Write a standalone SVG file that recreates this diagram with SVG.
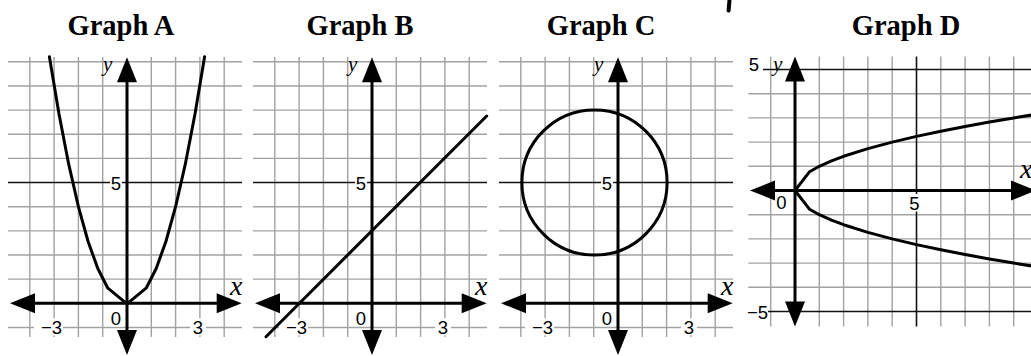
<svg xmlns="http://www.w3.org/2000/svg" width="1031" height="356" viewBox="0 0 1031 356">
<style>
.grid{stroke:#a2a2a2;stroke-width:1.4;fill:none}
.dark{stroke:#111;stroke-width:1.6;fill:none}
.axis{stroke:#000;stroke-width:3;fill:none}
.curve{stroke:#000;stroke-width:3;fill:none;stroke-linejoin:round;stroke-linecap:round}
.bg{fill:#fff}
.title{font-family:"Liberation Serif","Times New Roman",serif;font-weight:bold;font-size:28.5px;text-anchor:middle;fill:#000}
.num{font-family:"Liberation Sans",Arial,sans-serif;font-size:18.5px;fill:#000}
.mid{text-anchor:middle}
.end{text-anchor:end}
.yv{font-family:"Liberation Serif","Times New Roman",serif;font-style:italic;font-size:21px;fill:#000}
.xv{font-family:"Liberation Serif","Times New Roman",serif;font-style:italic;font-size:28px;fill:#000}
</style>
<defs>
<polygon id="ah" points="0,0 -25,-10 -25,10" fill="#000"/>
<g id="gridABC">
<path class="grid" d="M-97.2,-246.3V33.7M-72.9,-246.3V33.7M-48.6,-246.3V33.7M-24.3,-246.3V33.7M24.3,-246.3V33.7M48.6,-246.3V33.7M72.9,-246.3V33.7M97.2,-246.3V33.7M-119,24.15H115M-119,-24.15H115M-119,-48.3H115M-119,-72.45H115M-119,-96.6H115M-119,-144.9H115M-119,-169.05H115M-119,-193.2H115M-119,-217.35H115M-119,-241.5H115"/>
<path class="dark" d="M-119,-120.75H115"/>
<rect class="bg" x="-17" y="-128" width="12" height="16"/>
<rect class="bg" x="-18" y="7" width="14" height="16"/>
<rect class="bg" x="-93" y="15" width="29" height="17"/>
<rect class="bg" x="63" y="15" width="16" height="17"/>
<text class="num mid" x="-11" y="-113.3">5</text>
<text class="num mid" x="-11" y="21.7">0</text>
<text class="num end" x="-65" y="30.7">−3</text>
<text class="num mid" x="71" y="30.7">3</text>
<text class="yv" x="-24" y="-232.7">y</text>
<text class="xv" x="103" y="-8.3">x</text>
<path class="axis" d="M-105,0H103M0,-235V40"/>
<use href="#ah" transform="translate(-117,0) rotate(180)"/>
<use href="#ah" transform="translate(114.7,0)"/>
<use href="#ah" transform="translate(0,-246) rotate(-90)"/>
<use href="#ah" transform="translate(0,51.7) rotate(90)"/>
</g>
</defs>

<g id="graphA" transform="translate(127,303.3)">
<text class="title" x="-6" y="-268.3">Graph A</text>
<use href="#gridABC"/>
<path class="curve" d="M-77.6,-246.6L-68,-189.3L-58.3,-139.1L-48.6,-96.6L-38.9,-61.8L-29.2,-34.8L-19.4,-15.5L0,0.5L19.4,-15.5L29.2,-34.8L38.9,-61.8L48.6,-96.6L58.3,-139.1L68,-189.3L77.6,-246.6"/>
</g>

<g id="graphB" transform="translate(372,303.3)">
<text class="title" x="-12" y="-268.3">Graph B</text>
<use href="#gridABC"/>
<path class="curve" d="M-106,33.4L114.7,-187.3"/>
</g>

<g id="graphC" transform="translate(618,303.3)">
<text class="title" x="-17" y="-268.3">Graph C</text>
<use href="#gridABC"/>
<circle class="curve" cx="-23.5" cy="-120.8" r="72.6" stroke-width="2.5"/>
</g>

<g id="graphD" transform="translate(795,190.5)">
<text class="title" x="111" y="-155.5">Graph D</text>
<path class="grid" d="M-24.3,-134V136M24.3,-134V136M48.6,-134V136M72.9,-134V136M97.2,-134V136M145.8,-134V136M170.1,-134V136M194.4,-134V136M218.7,-134V136M-46.7,-24.2H236M-46.7,-48.4H236M-46.7,-72.6H236M-46.7,-96.8H236M-46.7,24.2H236M-46.7,48.4H236M-46.7,72.6H236M-46.7,96.8H236"/>
<path class="dark" d="M121.5,-134V136M-32,-121H236M-27,121H236"/>
<rect class="bg" x="112.5" y="3.5" width="14" height="17.5"/>
<text class="num mid" x="-41" y="-120">5</text>
<text class="yv" x="-22" y="-119.5">y</text>
<text class="num mid" x="-13.6" y="18.5">0</text>
<text class="num mid" x="119.5" y="19">5</text>
<text class="num end" x="-27" y="128.5">−5</text>
<text class="xv" x="225" y="-12.5">x</text>
<path class="axis" d="M-35,0H230M0,-120V122"/>
<use href="#ah" transform="translate(-45,0) rotate(180)"/>
<use href="#ah" transform="translate(1036,0) translate(-795,0)"/>
<use href="#ah" transform="translate(0,-134) rotate(-90)"/>
<use href="#ah" transform="translate(0,136) rotate(90)"/>
<path class="curve" d="M0,0L14.6,-18.8L24.3,-24.2L36.5,-29.6L48.6,-34.2L72.9,-41.9L97.2,-48.4L121.5,-54.1L145.8,-59.3L170.1,-64L194.4,-68.4L218.7,-72.6L243,-76.5"/>
<path class="curve" d="M0,0L14.6,18.8L24.3,24.2L36.5,29.6L48.6,34.2L72.9,41.9L97.2,48.4L121.5,54.1L145.8,59.3L170.1,64L194.4,68.4L218.7,72.6L243,76.5"/>
</g>

<path d="M729.5,0L728.6,10.5" stroke="#000" stroke-width="4" stroke-linecap="round" fill="none"/>
</svg>
